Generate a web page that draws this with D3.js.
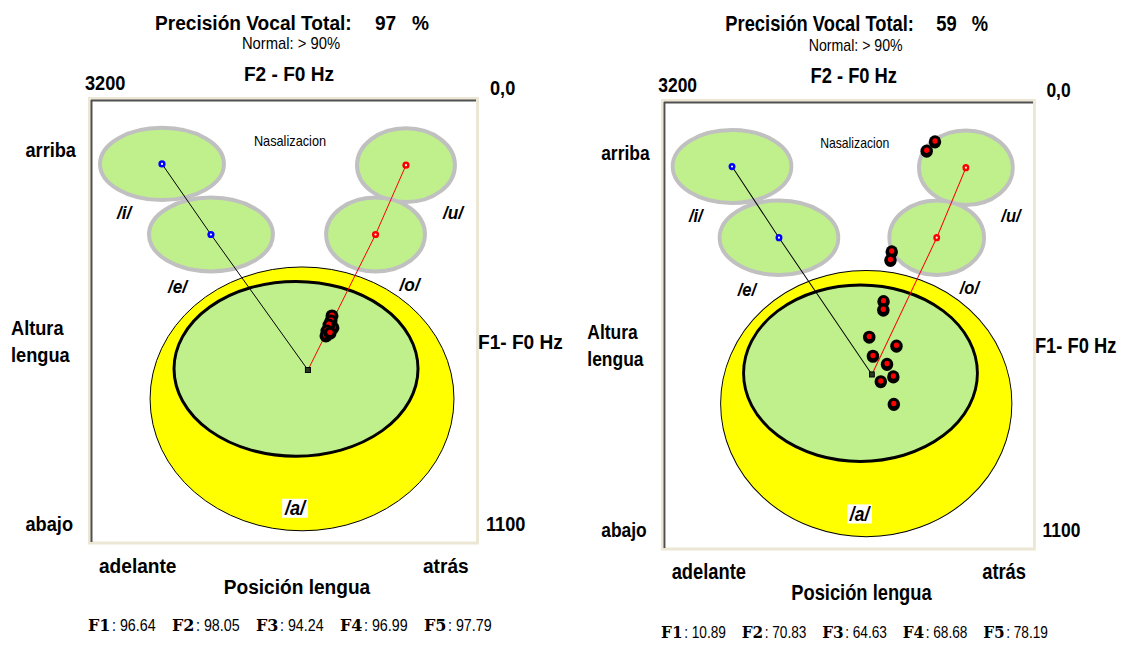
<!DOCTYPE html>
<html><head><meta charset="utf-8">
<script src="https://cdn.jsdelivr.net/npm/d3@7/dist/d3.min.js"></script>
<style>html,body{margin:0;padding:0;background:#fff;} svg{display:block}</style>
</head><body>
<svg id="chart" width="1126" height="645"></svg>
<script>
// ---------------- DATA ----------------
const panelScores = [97, 59];                 // Precisión Vocal Total (%)
const normalLabel = "Normal: > 90%";
const f2Domain = [3200, 0];                   // F2 - F0 Hz (left -> right)
const f1Domain = [0, 1100];                   // F1 - F0 Hz (top -> bottom)
const f2TickLabels = ["3200", "0,0"];
const f1TickLabel = "1100";

// vowel target regions (Hz)
const vowelNames = ["/i/", "/e/", "/u/", "/o/"];
const vowelF2 = [2610, 2203, 582, 835];
const vowelF1 = [157, 333, 160, 333];
const vowelRadF2 = [515, 515, 407, 411];
const vowelRadF1 = [90, 92, 92, 92];
const vowelColor = ["#0000ff", "#0000ff", "#ff0000", "#ff0000"];

// /a/ region and its target
const aOuterF2 = 1446, aOuterF1 = 743, aOuterRadF2 = 1263, aOuterRadF1 = 329;
const aInnerF2 = 1496, aInnerF1 = 668, aInnerRadF2 = 1014, aInnerRadF1 = 218;
const aTargetF2 = 1397, aTargetF1 = 671;

// measured productions
const leftPointsF2 = [1197, 1205, 1189, 1222, 1239, 1247, 1213];
const leftPointsF1 = [536, 549, 566, 559, 574, 586, 579];
const rightPointsF2 = [850, 922, 1225, 1236, 1296, 1298, 1420, 1184, 1388, 1266, 1211, 1320, 1207];
const rightPointsF1 = [96, 119, 368, 389, 491, 512, 579, 601, 626, 646, 677, 689, 745];

// formant scores
const formantNames = ["F1", "F2", "F3", "F4", "F5"];
const formantLeft = ["96.64", "98.05", "94.24", "96.99", "97.79"];
const formantRight = ["10.89", "70.83", "64.63", "68.68", "78.19"];

// ---------------- LAYOUT ----------------
const P = {x: 91, y: 101, w: 385, h: 441};
const SANS = "'Liberation Sans', Arial, Helvetica, sans-serif";
const vowelLabelOffset = [[-45, 55], [-43, 58], [37, 54], [24, 56]];

const svg = d3.select("#chart");
svg.append("rect").attr("width", 1126).attr("height", 645).attr("fill", "#fff");

function txt(g, x, y, s, o) {
  return g.append("text")
    .attr("transform", `translate(${x},${y}) scale(${o.sx ?? 0.91},1)`)
    .attr("text-anchor", o.anchor || "start")
    .attr("font-family", o.family || SANS)
    .attr("font-size", o.size)
    .attr("font-weight", o.weight || "bold")
    .attr("font-style", o.style || "normal")
    .attr("fill", "#000")
    .text(s);
}

function drawPanel(g, score, ptsF2, ptsF1, formVals) {
  const x = d3.scaleLinear().domain(f2Domain).range([P.x, P.x + P.w]);
  const y = d3.scaleLinear().domain(f1Domain).range([P.y, P.y + P.h]);
  const rx = v => Math.abs(x(v) - x(0));
  const ry = v => Math.abs(y(v) - y(0));

  // titles
  txt(g, 155, 30, "Precisión Vocal Total:", {size: 21});
  txt(g, 375, 30, String(score), {size: 21});
  txt(g, 412, 30, "%", {size: 21});
  txt(g, 291, 49, normalLabel, {size: 17, weight: "normal", anchor: "middle", sx: 0.87});
  txt(g, 289, 81, "F2 - F0  Hz", {size: 21, anchor: "middle"});
  txt(g, 85, 90, f2TickLabels[0], {size: 20});
  txt(g, 490, 95, f2TickLabels[1], {size: 20});

  // side labels
  txt(g, 76, 157, "arriba", {size: 20, anchor: "end"});
  txt(g, 11, 335, "Altura", {size: 20});
  txt(g, 11, 362, "lengua", {size: 20});
  txt(g, 73, 531, "abajo", {size: 20, anchor: "end"});
  txt(g, 478, 349, "F1- F0 Hz", {size: 21});
  txt(g, 486, 531, f1TickLabel, {size: 20});
  txt(g, 99, 573, "adelante", {size: 21});
  txt(g, 423, 573, "atrás", {size: 21});
  txt(g, 297, 594, "Posición lengua", {size: 21, anchor: "middle"});

  // frame
  g.append("rect").attr("x", P.x - 1.5).attr("y", P.y - 2.5)
    .attr("width", P.w + 3).attr("height", P.h + 3.5)
    .attr("fill", "#fff").attr("stroke", "#ebe7d4").attr("stroke-width", 3);
  g.append("path").attr("d", `M${P.x},${P.y - 0.5}H${P.x + P.w}M${P.x + 0.5},${P.y - 1}V${P.y + P.h}`)
    .attr("stroke", "#505050").attr("stroke-width", 2).attr("fill", "none");

  // /a/ regions
  g.append("ellipse").attr("cx", x(aOuterF2)).attr("cy", y(aOuterF1))
    .attr("rx", rx(aOuterRadF2)).attr("ry", ry(aOuterRadF1))
    .attr("fill", "#ffff00").attr("stroke", "#000").attr("stroke-width", 1);
  g.append("ellipse").attr("cx", x(aInnerF2)).attr("cy", y(aInnerF1))
    .attr("rx", rx(aInnerRadF2)).attr("ry", ry(aInnerRadF1))
    .attr("fill", "#bff08c").attr("stroke", "#000").attr("stroke-width", 3);

  // /a/ label with white background
  const ax = x(aOuterF2) - 7, ay = y(aOuterF1 + aOuterRadF1) - 16;
  const aLab = txt(g, ax, ay, "/a/", {size: 20, style: "italic", anchor: "middle"});
  const bb = aLab.node().getBBox();
  g.insert("rect", () => aLab.node())
    .attr("x", ax - bb.width * 0.91 / 2 - 1.5).attr("y", ay - 16)
    .attr("width", bb.width * 0.91 + 3).attr("height", 19).attr("fill", "#fff");

  // vowel regions
  vowelNames.forEach((n, i) => {
    g.append("ellipse").attr("cx", x(vowelF2[i])).attr("cy", y(vowelF1[i]))
      .attr("rx", rx(vowelRadF2[i])).attr("ry", ry(vowelRadF1[i]))
      .attr("fill", "#bff08c").attr("stroke", "#c0c0c0").attr("stroke-width", 4);
  });
  vowelNames.forEach((n, i) => {
    txt(g, x(vowelF2[i]) + vowelLabelOffset[i][0], y(vowelF1[i]) + vowelLabelOffset[i][1], n,
      {size: 19, style: "italic"});
  });
  txt(g, 290, 146, "Nasalizacion", {size: 14, weight: "normal", anchor: "middle"});

  // target lines
  const line = d3.line().x(d => x(d[0])).y(d => y(d[1]));
  g.append("path").attr("d", line([[vowelF2[0], vowelF1[0]], [vowelF2[1], vowelF1[1]], [aTargetF2, aTargetF1]]))
    .attr("fill", "none").attr("stroke", "#000").attr("stroke-width", 1);
  g.append("path").attr("d", line([[vowelF2[2], vowelF1[2]], [vowelF2[3], vowelF1[3]], [aTargetF2, aTargetF1]]))
    .attr("fill", "none").attr("stroke", "#ff0000").attr("stroke-width", 1);

  // target markers
  vowelNames.forEach((n, i) => {
    g.append("circle").attr("cx", x(vowelF2[i])).attr("cy", y(vowelF1[i])).attr("r", 3.6).attr("fill", vowelColor[i]);
    g.append("circle").attr("cx", x(vowelF2[i])).attr("cy", y(vowelF1[i])).attr("r", 1.1).attr("fill", "#fff");
  });
  g.append("rect").attr("x", x(aTargetF2) - 2.5).attr("y", y(aTargetF1) - 2.5)
    .attr("width", 5).attr("height", 5).attr("fill", "#2a3a20").attr("stroke", "#000").attr("stroke-width", 1);

  // productions (each drawn as black disc then red core, in order)
  const pts = ptsF2.map((v, i) => [v, ptsF1[i]]);
  const pg = g.selectAll(null).data(pts).enter().append("g");
  pg.append("circle").attr("cx", d => x(d[0])).attr("cy", d => y(d[1])).attr("r", 6.5).attr("fill", "#000");
  pg.append("circle").attr("cx", d => x(d[0])).attr("cy", d => y(d[1]) - 0.8).attr("r", 2.7).attr("fill", "#ff0000");

  // formant scores
  formantNames.forEach((f, i) => {
    const gx = 88 + i * 84;
    txt(g, gx, 631, f, {size: 16, family: "'DejaVu Serif', serif", sx: 1});
    txt(g, gx + 24, 631, ": " + formVals[i], {size: 17, weight: "normal", sx: 0.84});
  });
}

const gL = svg.append("g");
drawPanel(gL, panelScores[0], leftPointsF2, leftPointsF1, formantLeft);

const sx = 369 / 385, sy = 445 / 441;
const gR = svg.append("g").attr("transform", `translate(${664 - P.x * sx},${103 - P.y * sy}) scale(${sx},${sy})`);
drawPanel(gR, panelScores[1], rightPointsF2, rightPointsF1, formantRight);
</script>
</body></html>
